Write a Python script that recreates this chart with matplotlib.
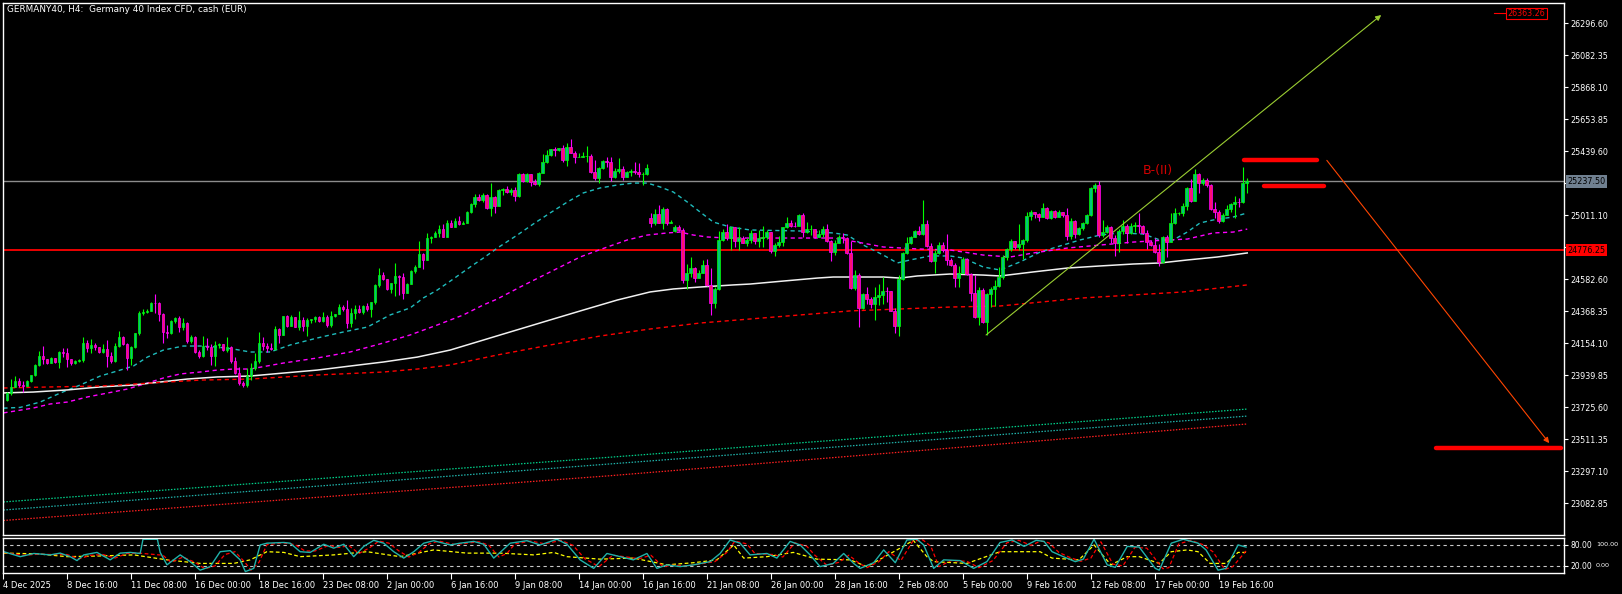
import numpy as np
import matplotlib
matplotlib.use("Agg")
from matplotlib import pyplot as plt

plt.rcParams["font.family"] = "DejaVu Sans"

# ---- candles (H4 bars, index 0 = 4 Dec 04:00) ----
first_open = 23774
closes = [
    23824, 23864, 23902, 23875, 23870, 23902, 23942, 24009, 24069, 24047,
    24025, 24053, 24031, 24096, 24087, 24047, 24020, 24035, 24040, 24154,
    24120, 24143, 24127, 24098, 24118, 24069, 24038, 24136, 24199, 24150,
    24053, 24127, 24221, 24359, 24366, 24373, 24426, 24422, 24350, 24232,
    24221, 24304, 24321, 24261, 24288, 24172, 24199, 24098, 24069, 24136,
    24127, 24069, 24143, 24150, 24109, 24132, 24038, 23953, 23886, 23875,
    23935,
    23986, 24035, 24158, 24136, 24120, 24116, 24250, 24210, 24337, 24270,
    24328, 24265, 24310, 24270, 24310, 24315, 24328, 24306, 24332, 24276,
    24337, 24348, 24399, 24381, 24288, 24359, 24381, 24366, 24404, 24381,
    24428, 24545, 24611, 24582, 24515, 24556, 24605, 24600, 24493, 24551,
    24640, 24663, 24752, 24712, 24857, 24868, 24895, 24917, 24868, 24962,
    24935, 24975, 24953, 24962, 25035, 25087, 25136, 25114, 25147, 25058,
    25136, 25073, 25180,
    25185, 25169, 25180, 25140, 25287, 25243, 25287, 25236, 25220, 25296,
    25370, 25415, 25453, 25448, 25459, 25381, 25466, 25430, 25399, 25404,
    25408, 25410, 25303, 25258, 25325, 25377, 25370, 25265, 25310, 25319,
    25269, 25303, 25310, 25303, 25287, 25290, 25325, 24962, 25020, 24962,
    25051, 24962, 24968, 24930, 24912, 24578, 24627, 24656, 24589, 24627,
    24678, 24544, 24426, 24515, 24845, 24900, 24857, 24930, 24841, 24857,
    24827, 24845,
    24890, 24841, 24857, 24868, 24901, 24774, 24812, 24835, 24931, 24962,
    24940, 24938, 25013, 24901, 24917, 24920, 24864, 24885, 24917, 24841,
    24768, 24828, 24864, 24857, 24756, 24522, 24611, 24388, 24484, 24448,
    24417, 24466, 24478, 24506, 24504, 24373, 24272, 24582, 24761, 24828,
    24864, 24908, 24886, 24953, 24806, 24707, 24756, 24812, 24779, 24712,
    24678, 24589, 24627, 24716, 24618, 24493, 24328, 24511, 24300, 24484,
    24515, 24538, 24600,
    24734, 24783, 24840, 24800, 24820, 24845, 25006, 25035, 25020, 25002,
    25058, 24991, 25042, 24998, 25033, 25013, 24873, 24973, 24886, 24924,
    24957, 25013, 25192, 25214, 24879, 24901, 24935, 24857, 24823, 24908,
    24940, 24895, 24940, 24946, 24940, 24895, 24835, 24812, 24768, 24701,
    24864, 24835, 24962, 25024, 25029, 25073, 25192, 25109, 25288, 25230,
    25248, 25214, 25051, 25035, 24975, 25013, 25051, 25087, 25102, 25100,
    25230, 25237.5,
]
highs = [
    23830, 23913, 23935, 23924, 23900, 23910, 23945, 24015, 24103, 24136,
    24050, 24060, 24058, 24100, 24120, 24120, 24050, 24045, 24050, 24194,
    24176, 24181, 24158, 24130, 24150, 24176, 24098, 24154, 24237, 24203,
    24154, 24135, 24225, 24370, 24382, 24384, 24430, 24484, 24433, 24355,
    24277, 24310, 24333, 24337, 24326, 24299, 24210, 24200, 24109, 24203,
    24188, 24150, 24170, 24155, 24150, 24194, 24136, 24060, 23993, 23902,
    23987,
    24024, 24087, 24232, 24194, 24154, 24158, 24272, 24254, 24340, 24344,
    24344, 24321, 24370, 24332, 24326, 24320, 24337, 24337, 24361, 24344,
    24370, 24352, 24415, 24410, 24444, 24388, 24410, 24408, 24410, 24422,
    24433, 24551, 24656, 24631, 24538, 24560, 24690, 24611, 24622, 24556,
    24645, 24678, 24839, 24756, 24890, 24872, 24908, 24946, 24953, 24980,
    24980, 24991, 25006, 24970, 25040, 25096, 25154, 25154, 25158, 25154,
    25230, 25140, 25185,
    25191, 25207, 25191, 25198, 25292, 25292, 25292, 25274, 25252, 25303,
    25421, 25448, 25457, 25466, 25462, 25482, 25497, 25520, 25444, 25430,
    25437, 25475, 25421, 25381, 25332, 25380, 25399, 25399, 25325, 25392,
    25341, 25310, 25319, 25366, 25359, 25303, 25354, 25024, 25051, 25080,
    25064, 25058, 24980, 24946, 24944, 24924, 24685, 24734, 24667, 24645,
    24712, 24716, 24656, 24533, 24908, 24920, 24953, 24935, 24935, 24935,
    24872, 24857,
    24913, 24890, 24913, 24939, 24913, 24835, 24823, 24872, 24935, 24998,
    24980, 24969, 25018, 25024, 24969, 24946, 24913, 24913, 24940, 24953,
    24846, 24846, 24879, 24890, 24868, 24839, 24645, 24622, 24489, 24529,
    24466, 24533, 24551, 24596, 24533, 24489, 24388, 24611, 24768, 24868,
    24872, 24913, 24940, 25114, 24980, 24823, 24779, 24835, 24835, 24886,
    24723, 24694, 24672, 24730, 24723, 24622, 24611, 24533, 24522, 24489,
    24533, 24580, 24662,
    24745, 24790, 24850, 24835, 24955, 24850, 25035, 25047, 25024, 25029,
    25091, 25069, 25046, 25046, 25046, 25035, 25058, 24991, 24980, 24935,
    24969, 25020, 25198, 25225, 25243, 24980, 24946, 24940, 24879, 24917,
    24980, 24953, 24962, 24969, 25024, 24946, 24913, 24846, 24857, 24819,
    24873, 24879, 25024, 25058, 25035, 25091, 25203, 25252, 25319, 25292,
    25259, 25259, 25221, 25102, 25047, 25024, 25080, 25091, 25140, 25125,
    25332, 25259,
]
lows = [
    23770, 23808, 23864, 23864, 23830, 23870, 23895, 23935, 24003, 24016,
    24015, 24020, 24025, 23991, 24060, 23998, 24010, 24015, 24030, 24031,
    24098, 24091, 24109, 24090, 24087, 23998, 24020, 24031, 24127, 24145,
    23975, 24009, 24120, 24210, 24344, 24355, 24370, 24355, 24306, 24158,
    24188, 24215, 24292, 24232, 24243, 24158, 24154, 24090, 24053, 24060,
    24109, 24009, 24002, 24120, 24100, 24098, 24025, 23949, 23875, 23864,
    23859,
    23908, 23975, 24024, 24109, 24098, 24109, 24109, 24158, 24210, 24265,
    24299, 24261, 24243, 24236, 24205, 24290, 24299, 24299, 24299, 24261,
    24265, 24330, 24377, 24372, 24259, 24265, 24317, 24359, 24350, 24372,
    24332, 24417, 24533, 24578, 24510, 24489, 24471, 24478, 24451, 24489,
    24585, 24627, 24663, 24649, 24712, 24823, 24868, 24868, 24864, 24868,
    24931, 24935, 24946, 24950, 24957, 25029, 25069, 25109, 25102, 25051,
    25009, 25024, 25073,
    25147, 25158, 25147, 25109, 25131, 25236, 25236, 25207, 25214, 25207,
    25292, 25359, 25408, 25408, 25444, 25370, 25341, 25426, 25363, 25399,
    25400, 25370, 25296, 25247, 25229, 25321, 25332, 25243, 25258, 25296,
    25247, 25281, 25274, 25290, 25269, 25214, 25281, 24935, 24946, 24957,
    24917, 24946, 24957, 24901, 24908, 24560, 24515, 24600, 24566, 24589,
    24622, 24537, 24343, 24388, 24511, 24840, 24845, 24778, 24796, 24778,
    24823, 24805,
    24823, 24819, 24801, 24801, 24850, 24756, 24739, 24801, 24806, 24924,
    24935, 24930, 24940, 24868, 24890, 24879, 24857, 24870, 24868, 24835,
    24707, 24745, 24823, 24823, 24752, 24515, 24511, 24265, 24381, 24417,
    24388, 24310, 24410, 24417, 24433, 24373, 24225, 24203, 24578, 24752,
    24817, 24872, 24880, 24879, 24801, 24701, 24627, 24752, 24768, 24678,
    24672, 24529, 24533, 24627, 24611, 24439, 24321, 24276, 24290, 24210,
    24400, 24405, 24530,
    24582, 24712, 24775, 24785, 24780, 24716, 24835, 24980, 24991, 24975,
    24998, 24984, 24985, 24991, 25013, 25002, 24846, 24850, 24857, 24879,
    24913, 24953, 25006, 25169, 24864, 24864, 24895, 24823, 24739, 24768,
    24886, 24828, 24886, 24901, 24895, 24886, 24783, 24806, 24756, 24672,
    24694, 24730, 24835, 24953, 25013, 25006, 25047, 25102, 25114, 25158,
    25214, 25203, 25047, 24991, 24962, 24969, 25020, 25035, 24991, 25069,
    25091, 25158,
]
gap_opens = {161: 24991, 167: 24908}

# ---- moving averages (bar index, price) ----
ma_fast_k = [-0.9, 3.3, 8.3, 13.3, 18.3, 23.3, 27.6, 31.6, 35.1, 39.1, 44.1, 48.3, 52.6, 56.6,
             60.8, 65.8, 70.8, 77.6, 84.1, 90.1, 95.8, 100.8, 104.1, 107.6, 111.6, 115.8, 119.1,
             122.6, 127.6, 131.6, 135.8, 140.1, 144.1, 148.3, 152.6, 156.6, 160.1, 163.3, 166.6,
             170.1, 173.3, 176.6, 180.8, 185.8, 198.3, 206.6, 210.1, 214.1, 219.1, 222.6, 225.8,
             230.8, 235.8, 239.1, 244.1, 248.3, 253.3, 258.3, 263.3, 268.3, 273.3, 278.3, 284.1,
             288.3, 291.6, 295.1, 298.3, 301.6, 306.6, 310.1]
ma_fast = [23720, 23725, 23761, 23821, 23875, 23935, 23969, 24002, 24062, 24109, 24136, 24136,
           24129, 24116, 24096, 24096, 24143, 24190, 24230, 24263, 24344, 24391, 24458, 24511,
           24585, 24665, 24725, 24792, 24879, 24953, 25027, 25100, 25161, 25194, 25214, 25227,
           25227, 25201, 25167, 25100, 25033, 24966, 24933, 24913, 24906, 24893, 24879, 24812,
           24745, 24692, 24712, 24739, 24739, 24725, 24665, 24645, 24699, 24765, 24806, 24846,
           24879, 24893, 24886, 24846, 24846, 24899, 24960, 24980, 25000, 25027]
ma_mid_k = [-0.9, 6.6, 10.8, 15.1, 20.1, 25.1, 30.1, 35.1, 39.1, 43.3, 48.3, 52.6, 56.6, 60.8,
            69.1, 77.6, 85.8, 94.1, 100.8, 107.6, 114.1, 119.1, 122.6, 128.3, 133.3, 138.3, 143.3,
            146.6, 150.1, 155.1, 160.1, 165.1, 168.3, 171.6, 175.1, 180.1, 185.8, 198.3, 206.6,
            212.6, 219.1, 227.6, 235.8, 244.1, 250.8, 256.6, 265.1, 273.3, 281.6, 290.1, 295.1,
            301.6, 306.6, 310.1]
ma_mid = [23688, 23721, 23748, 23761, 23795, 23821, 23848, 23888, 23922, 23949, 23962, 23975,
          23982, 23982, 24022, 24056, 24096, 24156, 24210, 24277, 24344, 24411, 24451, 24531,
          24598, 24665, 24732, 24765, 24799, 24846, 24879, 24893, 24899, 24879, 24866, 24859,
          24859, 24859, 24859, 24832, 24799, 24786, 24779, 24745, 24732, 24759, 24792, 24812,
          24832, 24846, 24852, 24893, 24899, 24919]
ma_slow_k = [-0.9, 6.6, 15.1, 23.3, 31.6, 38.3, 45.1, 52.6, 60.8, 69.1, 77.6, 85.8, 94.1, 102.6,
             110.8, 119.1, 123.3, 136.6, 144.1, 152.6, 160.8, 166.6, 173.3, 181.6, 185.8, 194.1,
             202.6, 206.6, 219.1, 223.3, 227.6, 235.8, 244.1, 248.3, 256.6, 265.1, 273.3, 281.6,
             288.3, 295.1, 302.6, 310.1]
ma_slow = [23822, 23828, 23842, 23862, 23875, 23895, 23915, 23929, 23935, 23955, 23975, 24002,
           24029, 24062, 24109, 24176, 24210, 24317, 24377, 24444, 24498, 24518, 24531, 24545,
           24551, 24571, 24591, 24598, 24598, 24591, 24605, 24618, 24611, 24605, 24632, 24658,
           24672, 24685, 24692, 24712, 24732, 24759]
ma_long_k = [-0.9, 10.8, 23.3, 35.8, 48.3, 60.8, 77.6, 94.1, 102.6, 110.8, 119.1, 122.6, 135.8,
             148.3, 160.8, 173.3, 185.8, 198.3, 210.8, 223.3, 235.8, 248.3, 269.1, 281.6, 294.1,
             310.1]
ma_long = [23855, 23862, 23868, 23888, 23908, 23915, 23942, 23962, 23982, 24009, 24056, 24076,
           24143, 24203, 24250, 24290, 24317, 24344, 24371, 24384, 24397, 24404, 24458, 24478,
           24498, 24545]
htf_k = [-0.9, 150, 310.1]
htf_green = [23092, 23390, 23714]
htf_cyan = [23038, 23345, 23667]
htf_red = [22968, 23266, 23614]

# ---- stochastic ----
st_main_k = [-0.8, 3.3, 6.7, 10.8, 13.3, 15.8, 17.5, 19.2, 22.5, 25.8, 28.3, 30.8, 33.3, 34, 37.6,
             38.3, 40, 43.3, 45.8, 48.3, 50.8, 53.3, 55.8, 58.3, 59.6, 61.7, 63.3, 65, 69.2, 70.8,
             73.3, 75.8, 79.2, 81.7, 84.2, 86.7, 89.2, 91.7, 94.2, 96.7, 99.2, 101.7, 104.2, 106.7,
             110.8, 113.3, 116.7, 119.2, 121.7, 123.3, 125.8, 130, 133.3, 137.5, 140, 143.3, 146.7,
             150, 153.3, 156.6, 160, 162.5, 165, 168.3, 171.7, 175.8, 178.3, 180.8, 183.3, 185.8,
             190, 192.5, 195.8, 198.3, 200.8, 203.3, 206.6, 209.2, 211.7, 213.3, 216.7, 219.2,
             222.1, 225, 227.5, 229.2, 231.7, 234.2, 238.3, 241.7, 245, 248.3, 251.3, 254.3, 257.3,
             259.3, 261.3, 264.1, 267.1, 269.1, 271.8, 275.1, 277.1, 280.1, 283.1, 287.1, 288.1,
             291.1, 294.1, 297.8, 299.8, 302.8, 304.8, 307.8, 309.8]
st_main = [60, 46, 55, 51, 56, 46, 35, 51, 58, 37, 56, 58, 55, 95, 95, 58, 23, 51, 32, 8,
           18, 60, 63, 37, 4, 13, 79, 84, 86, 84, 60, 58, 81, 70, 81, 46, 75, 92, 84, 60,
           42, 60, 84, 91, 79, 84, 89, 81, 42, 58, 84, 91, 79, 95, 81, 37, 13, 55, 46, 37,
           55, 13, 23, 18, 23, 32, 55, 93, 84, 51, 55, 42, 89, 79, 51, 18, 27, 55, 27, 13,
           29, 65, 29, 93, 95, 79, 13, 37, 35, 13, 32, 86, 93, 75, 92, 89, 60, 46, 32, 39,
           95, 23, 16, 75, 73, 13, 8, 84, 95, 84, 65, 8, 13, 79, 73]
st_sig_k = [-0.8, 4, 8, 12, 15, 18, 21, 24, 27, 30, 33, 39, 41, 44, 47, 49.5, 52, 54.5, 57, 59.5,
            61, 63, 65, 69, 72, 74.5, 77, 80.5, 83, 85.5, 88, 90.5, 93, 95.5, 98, 100.5, 103, 105.5,
            108, 112, 115, 118, 120.5, 123, 125, 127, 131, 134.5, 138.5, 141.5, 144.5, 148, 151.5,
            155, 158, 161, 164, 166.5, 170, 173, 177, 180, 182, 185, 187, 191.5, 194, 197, 200,
            202, 205, 208, 210.5, 213, 215, 218, 220.5, 223.5, 226.5, 229, 231, 233, 236, 240, 243,
            246.5, 250, 253, 256, 258.5, 260.5, 263, 265.5, 268.5, 271, 273.5, 276.5, 279, 282,
            285, 289, 290.5, 293, 296, 299, 301.5, 304.5, 306.5, 309.8]
st_sig = [58, 50, 53, 52, 52, 40, 50, 52, 42, 55, 56, 50, 30, 45, 30, 12, 20, 52, 60, 30,
          8, 30, 80, 85, 80, 62, 62, 78, 72, 77, 55, 70, 90, 84, 62, 45, 58, 82, 90, 80,
          84, 88, 78, 45, 55, 82, 90, 82, 92, 78, 40, 18, 50, 45, 40, 50, 18, 22, 20, 25,
          32, 58, 90, 82, 55, 52, 45, 85, 75, 50, 22, 30, 50, 28, 15, 32, 60, 35, 90, 93,
          75, 18, 35, 33, 15, 35, 85, 92, 78, 90, 85, 58, 45, 33, 42, 88, 25, 20, 72, 70,
          12, 15, 82, 92, 80, 60, 10, 18, 62]
st_slow_k = [-0.8, 7.5, 15, 23.3, 31.7, 40, 48.3, 56.7, 60.8, 65, 69.2, 73.3, 81.7, 90, 98.3,
             106.7, 115, 123.3, 131.7, 136.7, 140, 148.3, 156.6, 165, 171.7, 177.5, 181.7, 184.2,
             190, 196.6, 202.5, 210.8, 215, 223.3, 226.6, 230, 231.7, 240, 248.3, 253.3, 258.3,
             261.3, 268, 271.8, 276, 280.1, 283.1, 288.1, 291.1, 295.1, 297.8, 300.8, 304.8,
             307.8, 309.8]
st_slow = [56, 54, 46, 48, 51, 37, 27, 27, 37, 60, 58, 46, 51, 60, 46, 65, 56, 56, 51, 58,
           46, 39, 42, 23, 29, 37, 79, 42, 46, 58, 39, 37, 18, 70, 92, 46, 32, 27, 60, 60,
           60, 42, 37, 79, 23, 46, 46, 27, 60, 65, 60, 27, 27, 58, 58]

# ---- axis labels ----
price_ticks = [23082.85, 23297.10, 23511.35, 23725.60, 23939.85, 24154.10, 24368.35, 24582.60,
               24796.85, 25011.10, 25225.35, 25439.60, 25653.85, 25868.10, 26082.35, 26296.60]
hidden_ticks = [24796.85, 25225.35]   # covered by the price boxes
date_labels = ["4 Dec 2025", "8 Dec 16:00", "11 Dec 08:00", "16 Dec 00:00", "18 Dec 16:00",
               "23 Dec 08:00", "2 Jan 00:00", "6 Jan 16:00", "9 Jan 08:00", "14 Jan 00:00",
               "16 Jan 16:00", "21 Jan 08:00", "26 Jan 00:00", "28 Jan 16:00", "2 Feb 08:00",
               "5 Feb 00:00", "9 Feb 16:00", "12 Feb 08:00", "17 Feb 00:00", "19 Feb 16:00"]
bid_price = 25237.50
level_price = 24776.25
target_price = 26363.26

W, H = 1622, 594
fig = plt.figure(figsize=(W / 100, H / 100), dpi=100, facecolor="black")
ax = fig.add_axes([3 / W, (H - 535) / H, 1561 / W, 532 / H], facecolor="black")
ax2 = fig.add_axes([3 / W, (H - 573) / H, 1561 / W, 35.5 / H], facecolor="black", sharex=ax)

for a in (ax, ax2):
    for s in a.spines.values():
        s.set_color("white")
        s.set_linewidth(1.0)

c = np.array(closes, dtype=float)
h = np.array(highs, dtype=float)
l = np.array(lows, dtype=float)
o = np.r_[first_open, c[:-1]]
for k, v in gap_opens.items():
    o[k] = v
h = np.maximum(h, np.maximum(o, c))
l = np.minimum(l, np.minimum(o, c))
x = np.arange(len(c))
up = c >= o

ax.vlines(x[up], l[up], h[up], color="#00ff00", lw=0.8, zorder=3)
ax.vlines(x[~up], l[~up], h[~up], color="#ff00ff", lw=0.8, zorder=3)
ax.bar(x[up], c[up] - o[up], bottom=o[up], width=0.72, color="#00c878",
       edgecolor="#00ff00", lw=0.5, zorder=4)
ax.bar(x[~up], c[~up] - o[~up], bottom=o[~up], width=0.72, color="#ff1070",
       edgecolor="#ff00ff", lw=0.5, zorder=4)

ax.plot(ma_fast_k, ma_fast, color="#1fbcbc", lw=1.0, dashes=(3, 2.5), zorder=2)
ax.plot(ma_mid_k, ma_mid, color="#ff00ff", lw=1.0, dashes=(3, 2.5), zorder=2)
ax.plot(ma_slow_k, ma_slow, color="#f0f0f0", lw=1.1, zorder=2)
ax.plot(ma_long_k, ma_long, color="#ff0000", lw=1.0, dashes=(3, 2.5), zorder=2)
ax.plot(htf_k, htf_green, color="#00d08a", lw=0.9, dashes=(1.2, 1.2))
ax.plot(htf_k, htf_cyan, color="#20b2aa", lw=0.9, dashes=(1.2, 1.2))
ax.plot(htf_k, htf_red, color="#ff2020", lw=0.9, dashes=(1.2, 1.2))

ax.axhline(bid_price, color="#8c8c8c", lw=1.0, zorder=1)
ax.axhline(level_price, color="#ff0000", lw=1.3, zorder=1)

# target zones
ax.plot([309.3, 327.5], [25379, 25379], color="#ff0000", lw=3.2, solid_capstyle="round")
ax.plot([314.3, 329.3], [25205, 25205], color="#ff0000", lw=3.2, solid_capstyle="round")
ax.plot([357.3, 388.5], [23455, 23455], color="#ff0000", lw=3.2, solid_capstyle="round")

ax.annotate("", xy=(343.6, 26352), xytext=(244.8, 24210),
            arrowprops=dict(arrowstyle="-|>", color="#9acd32", lw=0.8,
                            mutation_scale=8, shrinkA=0, shrinkB=0))
ax.annotate("", xy=(385.6, 23486), xytext=(330.0, 25379),
            arrowprops=dict(arrowstyle="-|>", color="#ff4500", lw=0.8,
                            mutation_scale=8, shrinkA=0, shrinkB=0))
ax.text(284, 25308, "B-(II)", color="#d40000", fontsize=9, ha="left", va="center")

ax.plot([371.8, 374.6], [target_price, target_price], color="#ff0000", lw=0.8)
ax.text(375.2, target_price, f"{target_price:.2f}", color="#ff0000", fontsize=5.8,
        ha="left", va="center",
        bbox=dict(boxstyle="square,pad=0.15", fc="black", ec="#ff0000", lw=0.8))

ax.set_xlim(-0.925, 389.3)
ax.set_ylim(22870.8, 26432.5)
ax.yaxis.tick_right()
ax.set_yticks(price_ticks)
ax.set_yticklabels(["" if p in hidden_ticks else f"{p:.2f}" for p in price_ticks])
ax.tick_params(axis="y", colors="white", direction="out", length=3, width=0.8,
               labelsize=5.8, pad=1.5)
ax.tick_params(axis="x", bottom=False, labelbottom=False)

ytr = ax.get_yaxis_transform()
ax.text(1.002, bid_price, f"{bid_price:.2f}", transform=ytr, color="black", fontsize=5.8,
        ha="left", va="center", zorder=10, clip_on=False,
        bbox=dict(boxstyle="square,pad=0.2", fc="#708090", ec="none"))
ax.text(1.002, level_price, f"{level_price:.2f}", transform=ytr, color="black", fontsize=5.8,
        ha="left", va="center", zorder=10, clip_on=False,
        bbox=dict(boxstyle="square,pad=0.2", fc="#ff0000", ec="none"))

fig.text(7 / W, 1 - 10 / H, "GERMANY40, H4:  Germany 40 Index CFD, cash (EUR)",
         color="white", fontsize=6.4, ha="left", va="center")

# stochastic panel
ax2.axhline(80, color="#c8c8c8", lw=0.8, dashes=(3, 3))
ax2.axhline(20, color="#c8c8c8", lw=0.8, dashes=(3, 3))
ax2.plot(st_slow_k, st_slow, color="#ffff00", lw=0.9, dashes=(3, 2))
ax2.plot(st_sig_k, st_sig, color="#ff0000", lw=0.9, dashes=(3, 2))
ax2.plot(st_main_k, st_main, color="#20b2aa", lw=1.0)
ax2.set_ylim(0, 100)
ax2.yaxis.tick_right()
ax2.set_yticks([20, 80])
ax2.set_yticklabels(["20.00", "80.00"])
ax2.tick_params(axis="y", colors="white", direction="out", length=3, width=0.8,
                labelsize=5.5, pad=1.5)
ytr2 = ax2.get_yaxis_transform()
ax2.text(1.0205, 80, "100.00", transform=ytr2, color="white", fontsize=4.6,
         ha="left", va="center", clip_on=False)
ax2.text(1.0205, 20, "0.00", transform=ytr2, color="white", fontsize=4.6,
         ha="left", va="center", clip_on=False)

ax2.set_xticks([16 * j - 1 for j in range(len(date_labels))])
ax2.set_xticklabels(date_labels, ha="left")
ax2.tick_params(axis="x", colors="white", direction="out", length=4, width=0.8,
                labelsize=6, pad=1.5)

fig.savefig("out.png", dpi=100, facecolor="black")
